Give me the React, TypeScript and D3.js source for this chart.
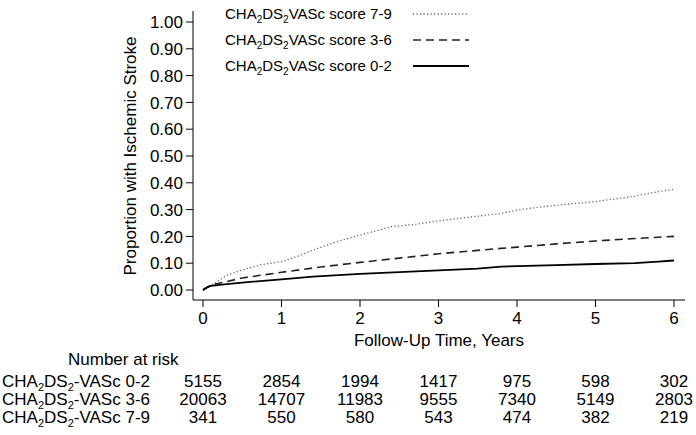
import React from "react";
import * as d3 from "d3";

const yTicks = [0, 0.1, 0.2, 0.3, 0.4, 0.5, 0.6, 0.7, 0.8, 0.9, 1.0];
const xTicks = [0, 1, 2, 3, 4, 5, 6];

const tLow = [0, 0.05, 0.1, 0.3, 0.6, 1.0, 1.4, 2.0, 2.5, 3.0, 3.5, 3.8, 4.0, 4.5, 5.0, 5.5, 5.8, 6.0];
const vLow = [0, 0.01, 0.015, 0.022, 0.03, 0.04, 0.05, 0.06, 0.067, 0.073, 0.08, 0.087, 0.089, 0.093, 0.097, 0.1, 0.106, 0.11];

const tMid = [0, 0.1, 0.5, 1.0, 1.5, 2.0, 2.5, 3.0, 3.5, 4.0, 4.5, 5.0, 5.5, 6.0];
const vMid = [0, 0.018, 0.045, 0.066, 0.086, 0.103, 0.119, 0.135, 0.148, 0.16, 0.172, 0.183, 0.192, 0.2];

const tHigh = [0, 0.2, 0.3, 0.5, 0.75, 1.0, 1.2, 1.4, 1.7, 2.0, 2.4, 2.7, 3.0, 3.4, 3.8, 4.0, 4.3, 4.7, 5.0, 5.3, 5.5, 5.7, 6.0];
const vHigh = [0, 0.035, 0.055, 0.075, 0.095, 0.106, 0.125, 0.149, 0.18, 0.205, 0.236, 0.245, 0.258, 0.272, 0.286, 0.298, 0.31, 0.322, 0.33, 0.342, 0.35, 0.362, 0.376];

const legendLabels = ["7-9", "3-6", "0-2"];
const riskLabels = ["0-2", "3-6", "7-9"];
const riskLow = [5155, 2854, 1994, 1417, 975, 598, 302];
const riskMid = [20063, 14707, 11983, 9555, 7340, 5149, 2803];
const riskHigh = [341, 550, 580, 543, 474, 382, 219];

const FONT = "'Liberation Sans', Arial, Helvetica, sans-serif";

export default function App() {
  const x = d3.scaleLinear().domain([0, 6]).range([203, 674]);
  const y = d3.scaleLinear().domain([0, 1]).range([290, 22]);
  const line = d3
    .line<[number, number]>()
    .x((d) => x(d[0]))
    .y((d) => y(d[1]))
    .curve(d3.curveLinear);

  const series = [
    { t: tHigh, v: vHigh, stroke: "#666", width: 1.3, dash: "1.2,2.3" },
    { t: tMid, v: vMid, stroke: "#222", width: 1.6, dash: "8,5" },
    { t: tLow, v: vLow, stroke: "#000", width: 1.8, dash: "" },
  ];
  const risk = [riskLow, riskMid, riskHigh];

  return (
    <svg
      width={696}
      height={435}
      style={{ position: "absolute", left: 0, top: 0, background: "#fff" }}
      fontFamily={FONT}
    >
      <rect width={696} height={435} fill="#fff" />
      {/* y axis */}
      <line x1={193} x2={193} y1={11} y2={300} stroke="#000" strokeWidth={1} />
      {yTicks.map((v) => (
        <g key={v}>
          <line x1={186} x2={193} y1={y(v)} y2={y(v)} stroke="#000" />
          <text x={183} y={y(v)} dy="0.36em" textAnchor="end" fontSize={17}>
            {v.toFixed(2)}
          </text>
        </g>
      ))}
      <text
        transform={`translate(136,156) rotate(-90)`}
        textAnchor="middle"
        fontSize={17}
      >
        Proportion with Ischemic Stroke
      </text>
      {/* x axis */}
      <line x1={193} x2={685} y1={300} y2={300} stroke="#000" />
      {xTicks.map((t) => (
        <g key={t}>
          <line x1={x(t)} x2={x(t)} y1={300} y2={307} stroke="#000" />
          <text x={x(t)} y={324} textAnchor="middle" fontSize={17}>
            {t}
          </text>
        </g>
      ))}
      <text x={439} y={346} textAnchor="middle" fontSize={17}>
        Follow-Up Time, Years
      </text>
      {/* curves */}
      {series.map((s, i) => (
        <path
          key={i}
          d={line(s.t.map((t, j) => [t, s.v[j]] as [number, number])) || ""}
          fill="none"
          stroke={s.stroke}
          strokeWidth={s.width}
          strokeDasharray={s.dash || undefined}
        />
      ))}
      {/* legend */}
      {legendLabels.map((lab, i) => {
        const yy = 14 + i * 26;
        const s = series[i];
        return (
          <g key={lab}>
            <text x={225} y={yy} dy="0.36em" fontSize={15}>
              CHA<tspan dy="4" fontSize={10}>2</tspan>
              <tspan dy="-4">DS</tspan>
              <tspan dy="4" fontSize={10}>2</tspan>
              <tspan dy="-4">VASc score {lab}</tspan>
            </text>
            <line
              x1={413}
              x2={469}
              y1={yy}
              y2={yy}
              stroke={s.stroke}
              strokeWidth={s.width}
              strokeDasharray={s.dash || undefined}
            />
          </g>
        );
      })}
      {/* risk table */}
      <text x={68} y={359} dy="0.36em" fontSize={17}>
        Number at risk
      </text>
      {riskLabels.map((lab, i) => {
        const yy = 381 + i * 18;
        return (
          <g key={lab}>
            <text x={2} y={yy} dy="0.36em" fontSize={17}>
              CHA<tspan dy="4" fontSize={11}>2</tspan>
              <tspan dy="-4">DS</tspan>
              <tspan dy="4" fontSize={11}>2</tspan>
              <tspan dy="-4">-VASc {lab}</tspan>
            </text>
            {risk[i].map((n, j) => (
              <text key={j} x={x(xTicks[j])} y={yy} dy="0.36em" textAnchor="middle" fontSize={17}>
                {n}
              </text>
            ))}
          </g>
        );
      })}
    </svg>
  );
}
